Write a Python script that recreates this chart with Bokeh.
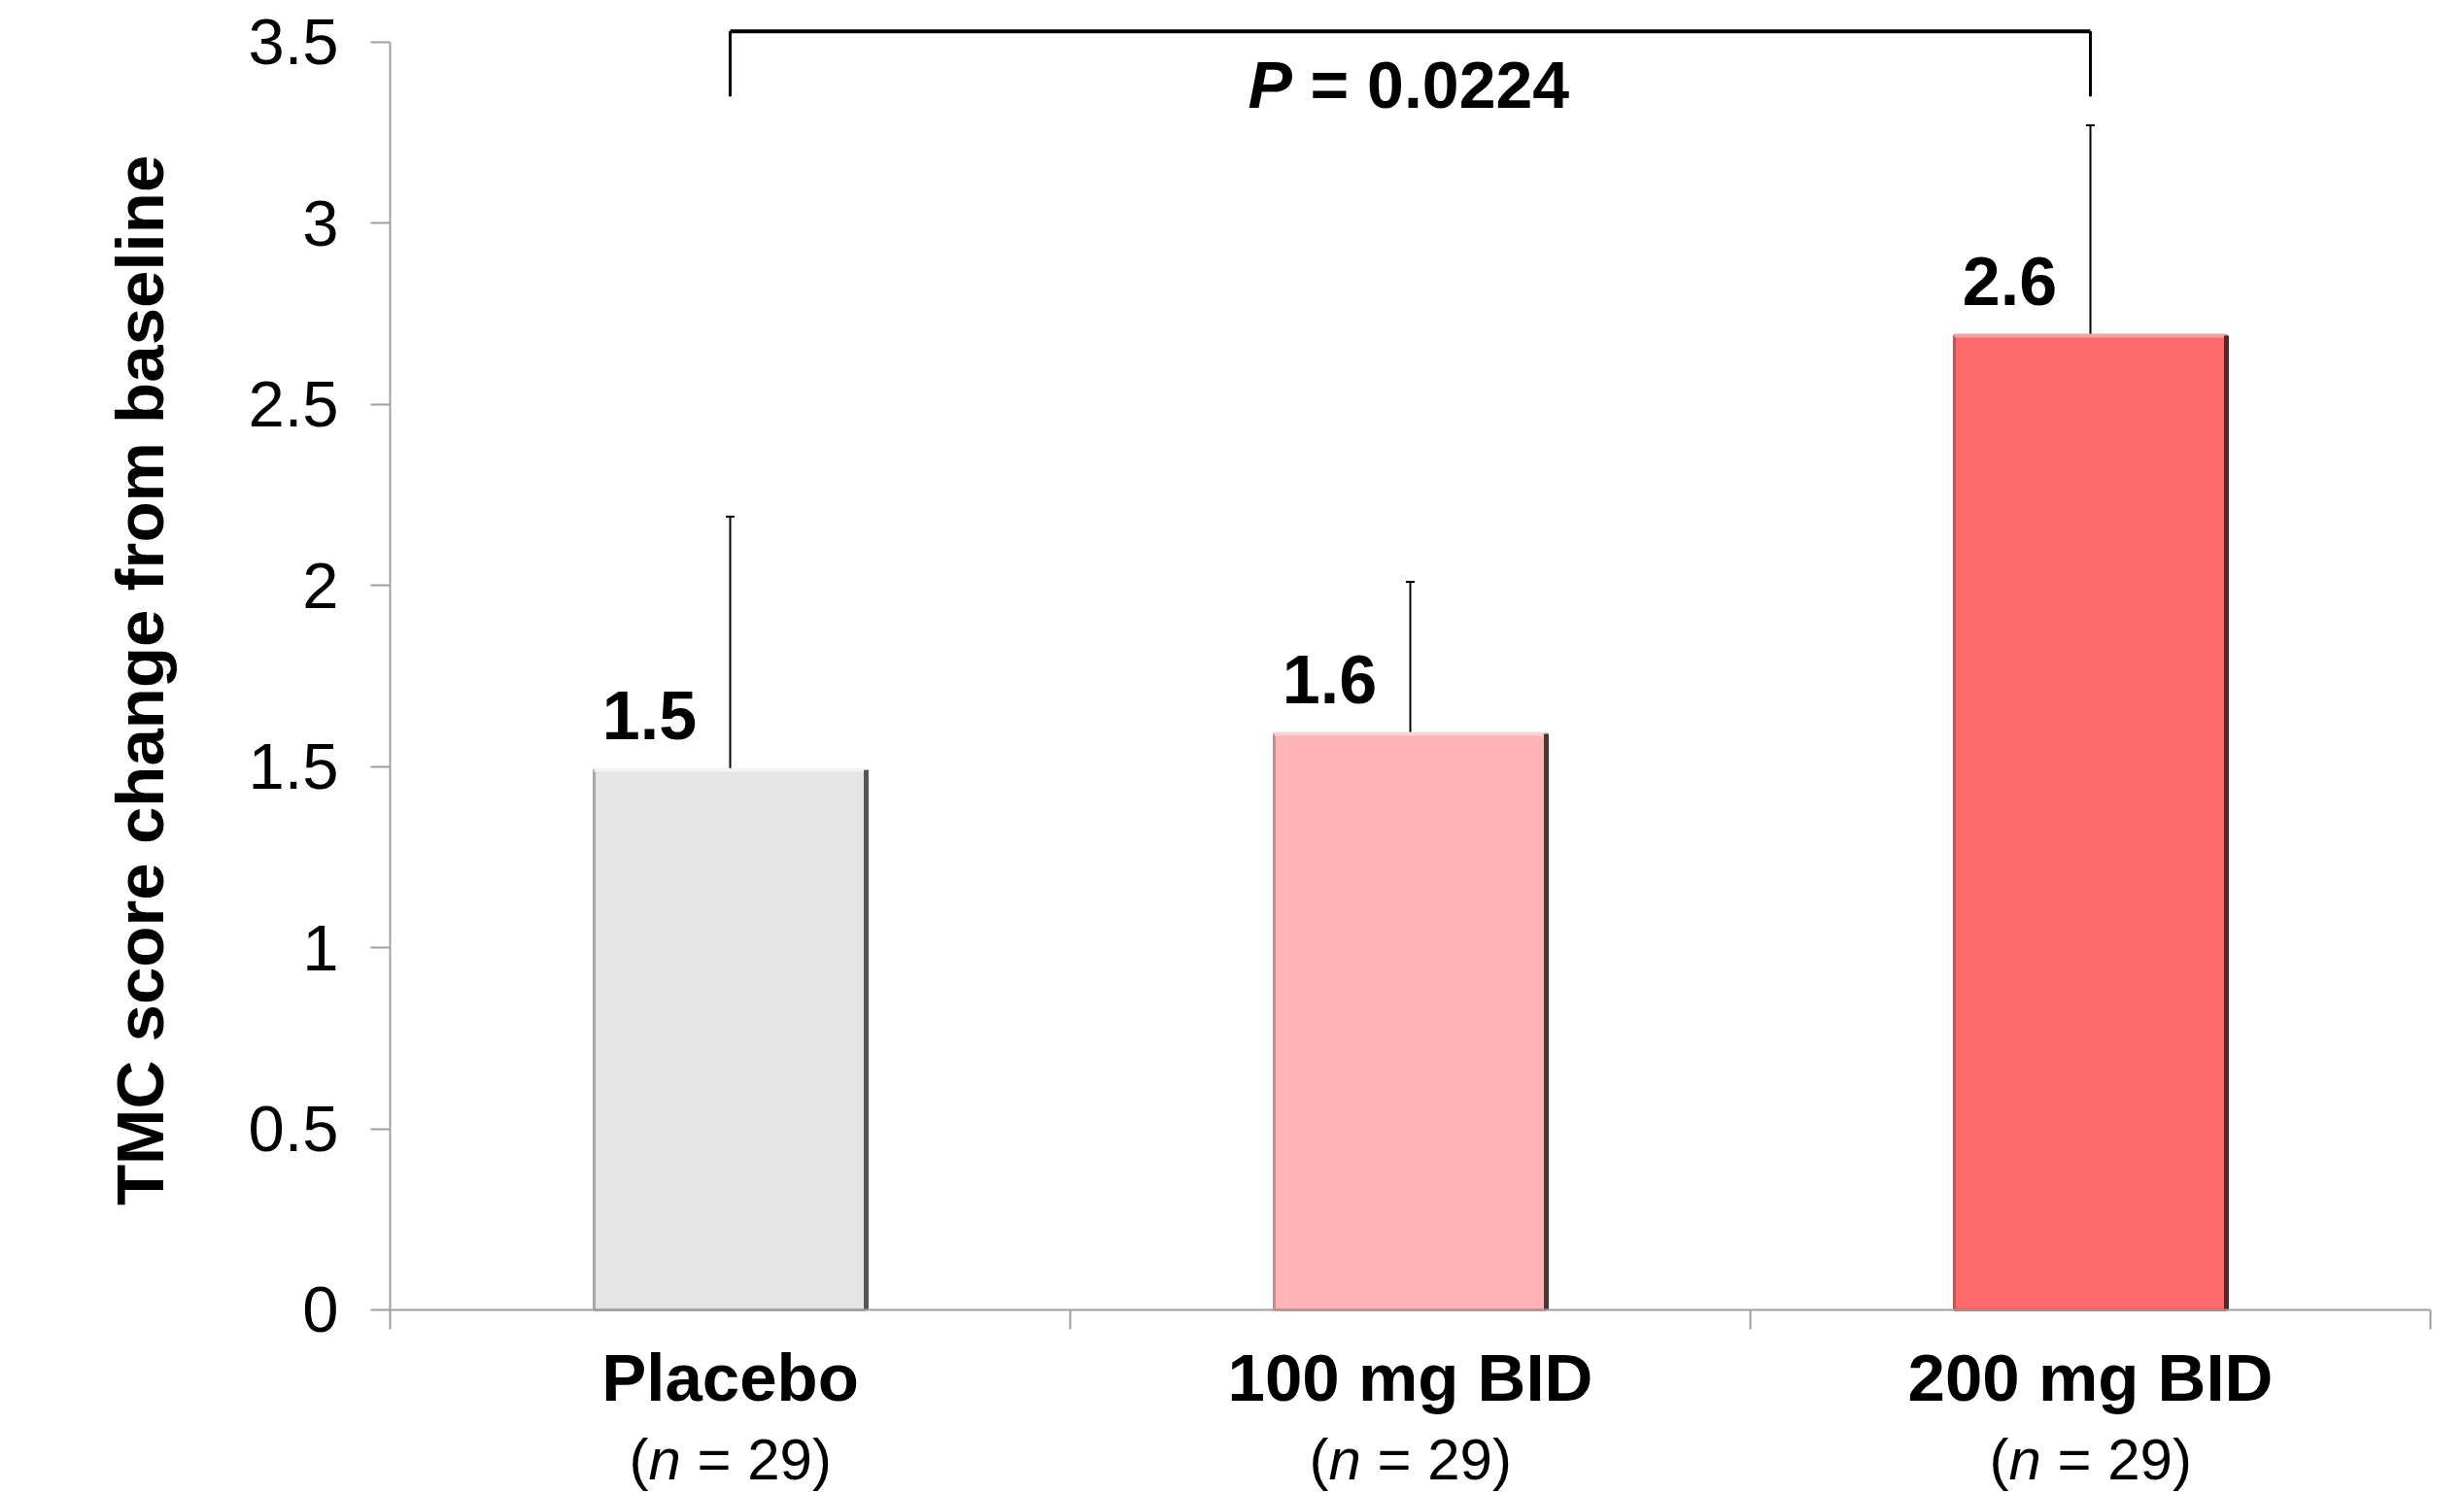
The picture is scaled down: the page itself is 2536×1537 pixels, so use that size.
import math
from bokeh.plotting import figure
from bokeh.models import Range1d, FixedTicker, ColumnDataSource, Whisker, TeeHead
from bokeh.core.properties import value
from bokeh.embed import file_html
from bokeh.resources import INLINE

# ---- data ----
groups = ["Placebo", "100 mg BID", "200 mg BID"]
n_labels = ["29", "29", "29"]
means = [1.49, 1.59, 2.69]
value_labels = ["1.5", "1.6", "2.6"]
err_upper = [2.19, 2.01, 3.27]
err_lower = [0.79, 1.16, 2.10]
y_ticks = [0, 0.5, 1, 1.5, 2, 2.5, 3, 3.5]
y_tick_labels = ["0", "0.5", "1", "1.5", "2", "2.5", "3", "3.5"]
y_title = "TMC score change from baseline"
p_label = "P"
p_value_text = "= 0.0224"
bracket_groups = [0, 2]
bracket_top = 3.53
bracket_drop = 3.35
p_text_y = 3.383

fills = ["#E5E5E5", "#FFB3B5", "#FF6B6B"]
edges = ["#A9A9A9", "#C88C8E", "#C65252"]
shadows = ["#555555", "#4A3636", "#4A2A2A"]
highlights = ["#F3F3F3", "#FFD2D2", "#FF9C9C"]

FONT = "Liberation Sans"
centers = [i + 0.5 for i in range(len(groups))]
bar_w = 0.4

# the frame covers the whole canvas; axes are drawn at fixed locations
p = figure(width=2536, height=1536, output_backend="svg", toolbar_location=None,
           x_range=Range1d(-0.5729, 3.05), y_range=Range1d(-0.5042, 3.6149),
           min_border=0)
p.outline_line_color = None
p.grid.visible = False
p.background_fill_color = "white"

src = ColumnDataSource(dict(x=centers, top=means, fill=fills, edge=edges,
                            shadow=shadows, hl=highlights,
                            right=[c + bar_w / 2 for c in centers],
                            left=[c - bar_w / 2 for c in centers],
                            upper=err_upper, lower=err_lower, lab=value_labels,
                            zero=[0] * 3))

p.vbar(x="x", width=bar_w, top="top", bottom=0, source=src,
       fill_color="fill", line_color="edge", line_width=3)
p.segment(x0="left", x1="right", y0="top", y1="top", source=src,
          line_color="hl", line_width=4)
p.segment(x0="right", x1="right", y0="zero", y1="top", source=src,
          line_color="shadow", line_width=5)

# error bars
p.add_layout(Whisker(base="x", upper="upper", lower="lower", source=src,
                     line_color="black", line_width=2,
                     upper_head=TeeHead(size=9, line_color="black", line_width=2),
                     lower_head=TeeHead(size=9, line_color="black", line_width=2)))

# value labels
p.text(x="x", y="top", text="lab", source=src, x_offset=-83, y_offset=-56,
       text_font=value(FONT), text_font_style="bold", text_font_size="70px",
       text_align="center", text_baseline="middle", text_color="black")

# significance bracket
bx = [centers[g] for g in bracket_groups]
p.line(x=bx, y=[bracket_top, bracket_top], line_color="black", line_width=4)
p.segment(x0=bx, x1=bx, y0=[bracket_top] * 2, y1=[bracket_drop] * 2,
          line_color="black", line_width=3)
pc = (bx[0] + bx[1]) / 2
p.text(x=[pc], y=[p_text_y], text=[p_label], x_offset=-167,
       text_font=value(FONT), text_font_style="bold italic", text_font_size="68px",
       text_align="left", text_baseline="middle", text_color="black")
p.text(x=[pc], y=[p_text_y], text=[p_value_text], x_offset=-103,
       text_font=value(FONT), text_font_style="bold", text_font_size="68px",
       text_align="left", text_baseline="middle", text_color="black")

# y axis
ya = p.yaxis[0]
ya.fixed_location = 0
ya.ticker = FixedTicker(ticks=y_ticks, minor_ticks=[])
ya.major_label_overrides = {t: l for t, l in zip(y_ticks, y_tick_labels)}
ya.bounds = (0, 3.5)
ya.axis_line_color = "#A0A0A0"
ya.axis_line_width = 2
ya.major_tick_line_color = "#A0A0A0"
ya.major_tick_line_width = 2
ya.major_tick_out = 20
ya.major_tick_in = 0
ya.major_label_text_font = FONT
ya.major_label_text_font_size = "67px"
ya.major_label_text_color = "black"
ya.major_label_standoff = 33

# y title (rotated)
p.text(x=[-0.367], y=[1.738], text=[y_title], angle=math.pi / 2,
       text_font=value(FONT), text_font_style="bold", text_font_size="69px",
       text_align="center", text_baseline="middle", text_color="black")

# x axis: labels at centres, ticks at category boundaries
xa = p.xaxis[0]
xa.fixed_location = 0
xa.bounds = (0, 3)
xa.ticker = FixedTicker(ticks=centers, minor_ticks=[0, 1, 2, 3])
xa.major_label_overrides = {c: g for c, g in zip(centers, groups)}
xa.axis_line_color = "#A0A0A0"
xa.axis_line_width = 2
xa.major_tick_out = 0
xa.major_tick_in = 0
xa.minor_tick_line_color = "#A0A0A0"
xa.minor_tick_line_width = 2
xa.minor_tick_out = 20
xa.minor_tick_in = 0
xa.major_label_text_font = FONT
xa.major_label_text_font_style = "bold"
xa.major_label_text_font_size = "69px"
xa.major_label_text_color = "black"
xa.major_label_standoff = 12

# "(n = 29)" lines below the category names
nsrc = ColumnDataSource(dict(x=centers, zero=[0] * 3,
                             a=["("] * 3, n=["n"] * 3,
                             b=["= " + s + ")" for s in n_labels]))
for col, xo, style in [("a", -104, "normal"), ("n", -84, "italic"), ("b", -34, "normal")]:
    p.text(x="x", y="zero", text=col, source=nsrc, x_offset=xo, y_offset=154,
           text_font=value(FONT), text_font_style=style, text_font_size="60px",
           text_color="black", text_align="left", text_baseline="middle")

open("out.html", "w").write(file_html(p, INLINE))
